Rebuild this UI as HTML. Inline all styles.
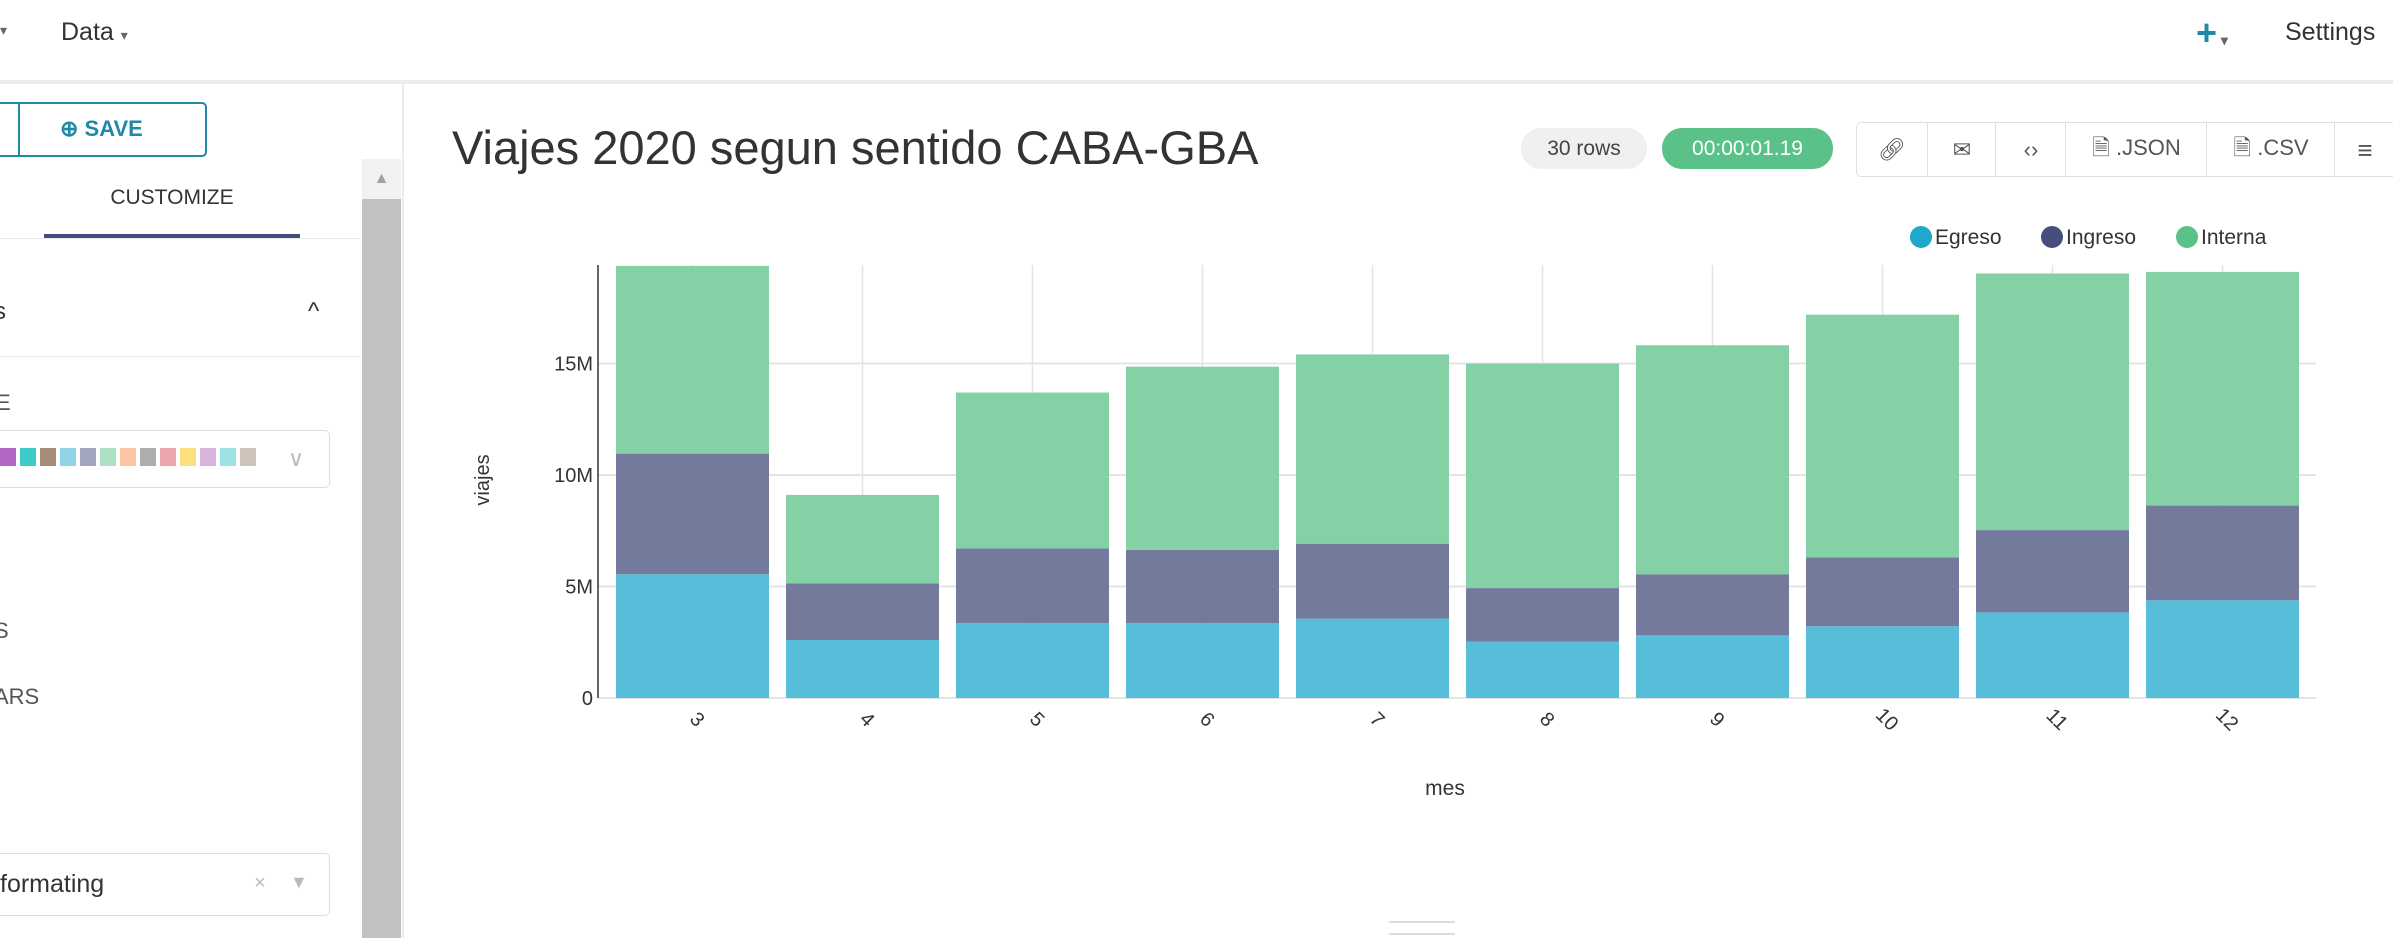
<!DOCTYPE html>
<html><head><meta charset="utf-8">
<style>
body{margin:0;width:2393px;height:938px;overflow:hidden;background:#fff;font-family:"Liberation Sans",sans-serif;position:relative;color:#333}
.a{position:absolute}
.btn{position:absolute;top:0;height:54px;border-left:1px solid #e0e0e0;display:flex;align-items:center;justify-content:center;font-size:22px;color:#555}
</style></head><body>
<div class="a" style="left:0;top:0;width:2393px;height:80px;border-bottom:4px solid #ececec"></div>
<div class="a" style="left:0;top:22px;font-size:14px;color:#666">▾</div>
<div class="a" style="left:61px;top:18px;font-size:25px;color:#333">Data <span style="font-size:14px;color:#666">▾</span></div>
<div class="a" style="left:2196px;top:12px;font-size:36px;font-weight:bold;color:#1f8aa8">+<span style="font-size:14px;color:#666"> ▾</span></div>
<div class="a" style="left:2285px;top:18px;font-size:25px;color:#333">Settings</div>

<div class="a" style="left:402px;top:84px;width:2px;height:854px;background:#ececec"></div>
<div class="a" style="left:-10px;top:102px;width:217px;height:55px;border:2px solid #1f8aa8;border-radius:5px;box-sizing:border-box"></div>
<div class="a" style="left:18px;top:102px;width:2px;height:55px;background:#1f8aa8"></div>
<div class="a" style="left:60px;top:116px;font-size:22px;color:#1f8aa8;font-weight:bold">⊕ SAVE</div>
<div class="a" style="left:44px;top:186px;width:256px;text-align:center;font-size:21px;color:#333">CUSTOMIZE</div>
<div class="a" style="left:44px;top:234px;width:256px;height:4px;background:#444e7c"></div>
<div class="a" style="left:0;top:238px;width:360px;height:1px;background:#e8e8e8"></div>
<div class="a" style="left:-6px;top:298px;font-size:24px">s</div>
<div class="a" style="left:308px;top:298px;font-size:24px">^</div>
<div class="a" style="left:0;top:356px;width:360px;height:1px;background:#e8e8e8"></div>
<div class="a" style="left:-4px;top:390px;font-size:22px;color:#555">E</div>
<div class="a" style="left:-10px;top:430px;width:340px;height:58px;border:1px solid #ddd;border-radius:5px;box-sizing:border-box"></div>
<div class="a" style="left:0;top:448px;display:flex;gap:4px">
<span style="width:16px;height:18px;background:#b167c4"></span><span style="width:16px;height:18px;background:#3ccbc8"></span><span style="width:16px;height:18px;background:#a48d76"></span><span style="width:16px;height:18px;background:#8fd3e4"></span><span style="width:16px;height:18px;background:#a1a6bd"></span><span style="width:16px;height:18px;background:#ace1c4"></span><span style="width:16px;height:18px;background:#fdc4a5"></span><span style="width:16px;height:18px;background:#aeaeae"></span><span style="width:16px;height:18px;background:#eba5ab"></span><span style="width:16px;height:18px;background:#fde180"></span><span style="width:16px;height:18px;background:#d6b4dc"></span><span style="width:16px;height:18px;background:#9ee3e3"></span><span style="width:16px;height:18px;background:#cdc3b9"></span></div>
<div class="a" style="left:288px;top:446px;font-size:22px;color:#bbb">∨</div>
<div class="a" style="left:-6px;top:618px;font-size:22px;color:#555">S</div>
<div class="a" style="left:-6px;top:684px;font-size:22px;color:#555">ARS</div>
<div class="a" style="left:-10px;top:853px;width:340px;height:63px;border:1px solid #ddd;border-radius:5px;box-sizing:border-box"></div>
<div class="a" style="left:0;top:870px;font-size:25px;color:#333">formating</div>
<div class="a" style="left:254px;top:872px;font-size:20px;color:#bbb">×</div>
<div class="a" style="left:290px;top:872px;font-size:18px;color:#bbb">▼</div>
<div class="a" style="left:362px;top:159px;width:39px;height:779px;background:#c1c1c1"></div>
<div class="a" style="left:362px;top:159px;width:39px;height:40px;background:#f1f1f1;text-align:center;font-size:16px;color:#a3a3a3;line-height:40px">▲</div>

<div class="a" style="left:452px;top:120px;font-size:47px;color:#333">Viajes 2020 segun sentido CABA-GBA</div>
<div class="a" style="left:1521px;top:128px;width:126px;height:41px;border-radius:20px;background:#f0f0f0;font-size:21px;text-align:center;line-height:41px;color:#444">30 rows</div>
<div class="a" style="left:1662px;top:128px;width:171px;height:41px;border-radius:20px;background:#5ac189;font-size:21px;text-align:center;line-height:41px;color:#fff">00:00:01.19</div>
<div class="a" style="left:1856px;top:122px;width:560px;height:55px;border:1px solid #e0e0e0;border-radius:5px;box-sizing:border-box">
<div class="btn" style="left:0;width:70px;border-left:none">🔗︎</div>
<div class="btn" style="left:70px;width:68px">✉</div>
<div class="btn" style="left:138px;width:70px">‹›</div>
<div class="btn" style="left:208px;width:141px">🗎 .JSON</div>
<div class="btn" style="left:349px;width:128px">🗎 .CSV</div>
<div class="btn" style="left:477px;width:60px;font-size:26px">≡</div>
</div>

<svg class="a" style="left:0;top:0" width="2393" height="938" id="chart"></svg>
<div class="a" style="left:1389px;top:921px;width:66px;height:10px;border-top:2px solid #ddd;border-bottom:2px solid #ddd"></div>

<script>
const categories=["3","4","5","6","7","8","9","10","11","12"];
const egreso=[5.55,2.60,3.36,3.36,3.56,2.53,2.81,3.22,3.84,4.38];
const ingreso=[5.41,2.54,3.35,3.28,3.36,2.40,2.74,3.08,3.69,4.25];
const interna=[8.42,3.97,6.99,8.22,8.49,10.07,10.27,10.89,11.51,10.48];
const yTicks=[0,5,10,15];
const yTickLabels=["0","5M","10M","15M"];
const seriesNames=["Egreso","Ingreso","Interna"];

const NS="http://www.w3.org/2000/svg";
const svg=document.getElementById('chart');
const X0=598,X1=2316,Y0=698,YTOP=265,YMAX=19.42,band=170,bandStart=607.5;
function y(v){return Y0-(v/YMAX)*(Y0-YTOP);}
function xc(i){return bandStart+band*(i+0.5);}
function mk(t,a,txt){const e=document.createElementNS(NS,t);for(const k in a)e.setAttribute(k,a[k]);if(txt!==undefined)e.textContent=txt;svg.appendChild(e);return e;}

yTicks.forEach((t,i)=>{
 const g=mk('line',{x1:X0,x2:X1,y1:y(t),y2:y(t),stroke:'#e4e4e4','stroke-width':2});
 
 
 const l=mk('text',{x:593,y:y(t)+7,'text-anchor':'end','font-size':20,fill:'#333','font-family':'Liberation Sans'},yTickLabels[i]);
 
 
});
categories.forEach((c,i)=>{
 const g=mk('line',{x1:xc(i),x2:xc(i),y1:YTOP,y2:Y0,stroke:'#e4e4e4','stroke-width':1.5});
 
 
});
const series=[egreso,ingreso,interna];
const cols=["#57bdd8","#737a9c","#84d1a6"];
categories.forEach((c,i)=>{
 let base=0;
 series.forEach((s,k)=>{
  const top=base+s[i];
  const r=mk('rect',{x:xc(i)-76.5,width:153,y:y(top),height:y(base)-y(top),fill:cols[k]});
  
  
  base=top;
 });
 const l=mk('text',{x:0,y:0,'font-size':20,fill:'#333','font-family':'Liberation Sans','text-anchor':'middle',transform:`translate(${xc(i)},${724}) rotate(45)`},c);
 
 
});
const ax=mk('line',{x1:X0,x2:X0,y1:YTOP,y2:Y0,stroke:'#333','stroke-width':1.5});


const yt=mk('text',{x:0,y:0,'font-size':20,fill:'#333','font-family':'Liberation Sans','text-anchor':'middle',transform:'translate(489,480) rotate(-90)'},'viajes');


const xt=mk('text',{x:1445,y:795,'font-size':21,fill:'#333','font-family':'Liberation Sans','text-anchor':'middle'},'mes');


const legX=[1921,2052,2187],legC=["#1fa8c9","#454e7c","#5ac189"];
seriesNames.forEach((n,k)=>{
 const d=mk('circle',{cx:legX[k],cy:237,r:11,fill:legC[k]});
 
 
 const t=mk('text',{x:legX[k]+14,y:244,'font-size':21,fill:'#333','font-family':'Liberation Sans'},n);
 
 
});
</script>
</body></html>
